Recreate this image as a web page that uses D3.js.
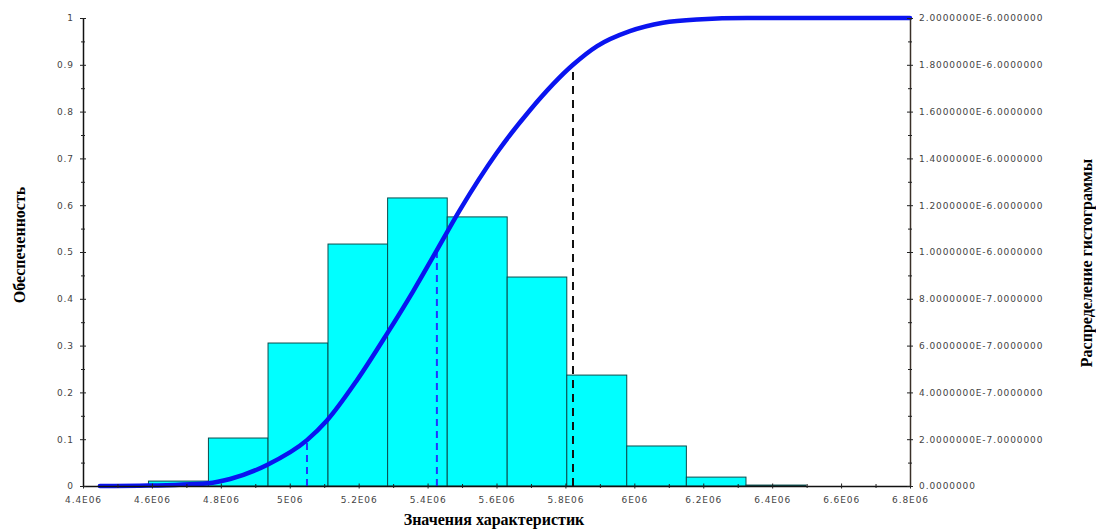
<!DOCTYPE html>
<html>
<head>
<meta charset="utf-8">
<script src="https://cdn.jsdelivr.net/npm/d3@7"></script>
<style>
    body { margin: 0; background: #fff; }
    .tick text { font-family: "DejaVu Sans", sans-serif; font-size: 9px; letter-spacing: 0.9px; fill: #444; }
    .title { font-family: "Liberation Serif", serif; font-weight: bold; font-size: 16px; fill: #000; }
</style>
</head>
<body>
<svg width="1096" height="530"></svg>
<script>
// histogram bins (edges in units of 1E6) and densities (units of 1E-6)
var binEdges = [4.590, 4.764, 4.937, 5.111, 5.284, 5.457, 5.631, 5.804, 5.978, 6.151, 6.324, 6.498];
var binDensity = [0.021, 0.205, 0.611, 1.034, 1.231, 1.150, 0.893, 0.474, 0.171, 0.038, 0.004];

// cumulative curve (x in 1E6, probability)
var cdfX = [4.449, 4.589, 4.763, 4.827, 4.934, 5.050, 5.108, 5.195, 5.282, 5.358, 5.427, 5.494,
            5.601, 5.697, 5.822, 5.892, 5.987, 6.083, 6.182, 6.327, 6.480, 6.800];
var cdfP = [0.000, 0.001, 0.006, 0.015, 0.045, 0.098, 0.140, 0.226, 0.325, 0.416, 0.504, 0.590,
            0.712, 0.803, 0.900, 0.940, 0.972, 0.990, 0.997, 1.000, 1.000, 1.000];

// quantile markers
var quantileX = [5.050, 5.427, 5.822];
var quantileP = [0.098, 0.504, 0.9];

var xTickValues = [4.4, 4.6, 4.8, 5.0, 5.2, 5.4, 5.6, 5.8, 6.0, 6.2, 6.4, 6.6, 6.8];
var xTickLabels = ['4.4E06', '4.6E06', '4.8E06', '5E06', '5.2E06', '5.4E06', '5.6E06',
                   '5.8E06', '6E06', '6.2E06', '6.4E06', '6.6E06', '6.8E06'];
var leftTickValues = [0, 0.1, 0.2, 0.3, 0.4, 0.5, 0.6, 0.7, 0.8, 0.9, 1];
var leftTickLabels = ['0', '0.1', '0.2', '0.3', '0.4', '0.5', '0.6', '0.7', '0.8', '0.9', '1'];
var rightTickValues = [0, 0.2, 0.4, 0.6, 0.8, 1.0, 1.2, 1.4, 1.6, 1.8, 2.0];
var rightTickLabels = ['0.0000000', '2.0000000E-7.0000000', '4.0000000E-7.0000000',
                       '6.0000000E-7.0000000', '8.0000000E-7.0000000', '1.0000000E-6.0000000',
                       '1.2000000E-6.0000000', '1.4000000E-6.0000000', '1.6000000E-6.0000000',
                       '1.8000000E-6.0000000', '2.0000000E-6.0000000'];

var svg = d3.select('svg');
var plotLeft = 83, plotRight = 910, plotTop = 18, plotBottom = 486;

var xScale = d3.scaleLinear().domain([4.4, 6.8]).range([plotLeft, plotRight]);
var yLeft = d3.scaleLinear().domain([0, 1]).range([plotBottom, plotTop]);
var yRight = d3.scaleLinear().domain([0, 2]).range([plotBottom, plotTop]);

// bars
svg.append('g')
    .selectAll('rect')
    .data(binDensity)
    .enter()
    .append('rect')
    .attr('x', function(d, i) { return xScale(binEdges[i]); })
    .attr('width', function(d, i) { return xScale(binEdges[i + 1]) - xScale(binEdges[i]); })
    .attr('y', function(d) { return yRight(d); })
    .attr('height', function(d) { return plotBottom - yRight(d); })
    .attr('fill', '#00ffff')
    .attr('stroke', '#0b4d4d')
    .attr('stroke-width', 1);

// quantile dashed lines
svg.append('g')
    .selectAll('line')
    .data(quantileX)
    .enter()
    .append('line')
    .attr('x1', function(d) { return xScale(d); })
    .attr('x2', function(d) { return xScale(d); })
    .attr('y1', plotBottom)
    .attr('y2', function(d, i) { return yLeft(quantileP[i]); })
    .attr('stroke', function(d, i) { return i == 2 ? '#111' : '#2233ff'; })
    .attr('stroke-width', 2)
    .attr('stroke-dasharray', function(d, i) { return i == 2 ? '8,6' : '7,5'; });

// cumulative curve
svg.append('path')
    .datum(cdfX)
    .attr('d', d3.line()
        .x(function(d) { return xScale(d); })
        .y(function(d, i) { return yLeft(cdfP[i]); })
        .curve(d3.curveMonotoneX))
    .attr('fill', 'none')
    .attr('stroke', '#0a14f0')
    .attr('stroke-width', 4.5)
    .attr('stroke-linecap', 'round');

// axes
function crossTicks(g, len, vertical) {
    g.selectAll('.tick line')
        .attr(vertical ? 'x1' : 'y1', -len)
        .attr(vertical ? 'x2' : 'y2', len)
        .attr('stroke', '#222');
    g.select('.domain').attr('stroke', '#111').attr('stroke-width', 1.5);
}

var xAxis = svg.append('g')
    .attr('transform', 'translate(0,' + plotBottom + ')')
    .call(d3.axisBottom(xScale)
        .tickValues(xTickValues)
        .tickSizeOuter(0)
        .tickPadding(5)
        .tickFormat(function(d, i) { return xTickLabels[i]; }));
crossTicks(xAxis, 2.5, false);

svg.append('g')
    .attr('transform', 'translate(0,' + plotBottom + ')')
    .call(d3.axisBottom(xScale).tickValues(d3.range(4.5, 6.8, 0.2)).tickFormat('').tickSizeOuter(0))
    .call(function(g) { crossTicks(g, 2, false); g.select('.domain').remove(); });

var yAxisL = svg.append('g')
    .attr('transform', 'translate(' + plotLeft + ',0)')
    .call(d3.axisLeft(yLeft)
        .tickValues(leftTickValues)
        .tickSizeOuter(0)
        .tickPadding(3)
        .tickFormat(function(d, i) { return leftTickLabels[i]; }));
crossTicks(yAxisL, 3, true);

svg.append('g')
    .attr('transform', 'translate(' + plotLeft + ',0)')
    .call(d3.axisLeft(yLeft).tickValues(d3.range(0.05, 1, 0.1)).tickFormat('').tickSizeOuter(0))
    .call(function(g) { crossTicks(g, 2, true); g.select('.domain').remove(); });

var yAxisR = svg.append('g')
    .attr('transform', 'translate(' + plotRight + ',0)')
    .call(d3.axisRight(yRight)
        .tickValues(rightTickValues)
        .tickSizeOuter(0)
        .tickPadding(3)
        .tickFormat(function(d, i) { return rightTickLabels[i]; }));
crossTicks(yAxisR, 3, true);
yAxisR.select('.domain').attr('stroke', '#3a3028');

svg.append('g')
    .attr('transform', 'translate(' + plotRight + ',0)')
    .call(d3.axisRight(yRight).tickValues(d3.range(0.1, 2, 0.2)).tickFormat('').tickSizeOuter(0))
    .call(function(g) { crossTicks(g, 2, true); g.select('.domain').remove(); });

// titles
svg.append('text')
    .attr('class', 'title')
    .attr('x', 494)
    .attr('y', 525)
    .attr('text-anchor', 'middle')
    .text('Значения характеристик');

svg.append('text')
    .attr('class', 'title')
    .attr('transform', 'translate(25,245) rotate(-90)')
    .attr('text-anchor', 'middle')
    .text('Обеспеченность');

svg.append('text')
    .attr('class', 'title')
    .attr('transform', 'translate(1092,263) rotate(-90)')
    .attr('text-anchor', 'middle')
    .text('Распределение гистограммы');
</script>
</body>
</html>
